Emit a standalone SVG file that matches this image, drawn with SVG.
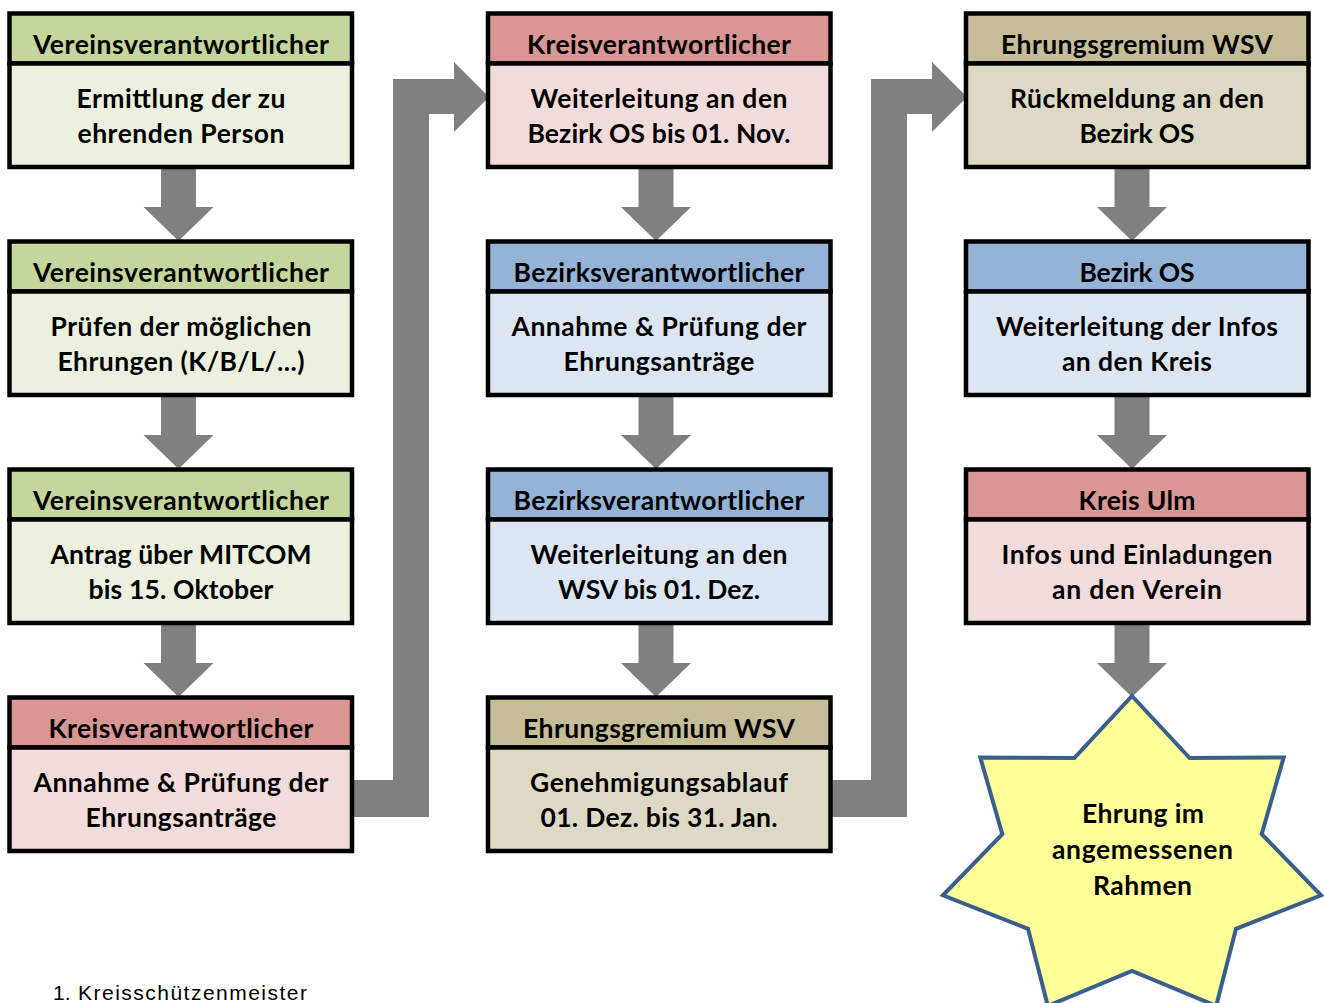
<svg xmlns="http://www.w3.org/2000/svg" width="1324" height="1003" viewBox="0 0 1324 1003">
<style>
.box{stroke:#000;stroke-width:4.5}
.gH{fill:#c3d69b}.gB{fill:#ebf1de}
.rH{fill:#d99694}.rB{fill:#f2dcdb}
.bH{fill:#95b3d7}.bB{fill:#dce6f2}
.tH{fill:#c4bd97}.tB{fill:#ddd9c4}
text{font-family:Lato,"Open Sans","Liberation Sans",sans-serif;font-weight:bold;font-size:26.5px;fill:#000;text-anchor:middle}
.arrow{fill:#808080}
.foot{font-family:"Liberation Sans",Arial,sans-serif;font-weight:normal;font-size:21px;text-anchor:start}
</style>
<g id="connectors">
<path class="arrow" d="M161 168 H196 V207 H213.5 L178.5 241 L143.5 207 H161 Z"/>
<path class="arrow" d="M161 396 H196 V435 H213.5 L178.5 469 L143.5 435 H161 Z"/>
<path class="arrow" d="M161 624 H196 V663 H213.5 L178.5 697 L143.5 663 H161 Z"/>
<path class="arrow" d="M638.5 168 H673.5 V207 H691 L656 241 L621 207 H638.5 Z"/>
<path class="arrow" d="M638.5 396 H673.5 V435 H691 L656 469 L621 435 H638.5 Z"/>
<path class="arrow" d="M638.5 624 H673.5 V663 H691 L656 697 L621 663 H638.5 Z"/>
<path class="arrow" d="M1114.5 168 H1149.5 V207 H1167 L1132 241 L1097 207 H1114.5 Z"/>
<path class="arrow" d="M1114.5 396 H1149.5 V435 H1167 L1132 469 L1097 435 H1114.5 Z"/>
<path class="arrow" d="M1114.5 624 H1149.5 V663 H1167 L1132 697 L1097 663 H1114.5 Z"/>
<path class="arrow" d="M353 780 H393 V79 H454 V62 L489 97 L454 132 V114 H429 V817 H353 Z"/>
<path class="arrow" d="M831 780 H871 V79 H932 V62 L967 97 L932 132 V114 H907 V817 H831 Z"/>
</g>
<g id="n1">
<rect class="box gH" x="9.5" y="13.5" width="342.5" height="50"/>
<rect class="box gB" x="9.5" y="63.5" width="342.5" height="103.5"/>
<text x="181" y="54" textLength="296">Vereinsverantwortlicher</text>
<text x="181" y="107.5" textLength="209">Ermittlung der zu</text>
<text x="181" y="143" textLength="207">ehrenden Person</text>
</g>
<g id="n2">
<rect class="box gH" x="9.5" y="241.5" width="342.5" height="50"/>
<rect class="box gB" x="9.5" y="291.5" width="342.5" height="103.5"/>
<text x="181" y="282" textLength="296">Vereinsverantwortlicher</text>
<text x="181" y="335.5" textLength="261">Prüfen der möglichen</text>
<text x="181" y="371" textLength="247">Ehrungen (K/B/L/...)</text>
</g>
<g id="n3">
<rect class="box gH" x="9.5" y="469.5" width="342.5" height="50"/>
<rect class="box gB" x="9.5" y="519.5" width="342.5" height="103.5"/>
<text x="181" y="510" textLength="296">Vereinsverantwortlicher</text>
<text x="181" y="563.5" textLength="261">Antrag über MITCOM</text>
<text x="181" y="599" textLength="185">bis 15. Oktober</text>
</g>
<g id="n4">
<rect class="box rH" x="9.5" y="697.5" width="342.5" height="50"/>
<rect class="box rB" x="9.5" y="747.5" width="342.5" height="103.5"/>
<text x="181" y="738" textLength="265">Kreisverantwortlicher</text>
<text x="181" y="791.5" textLength="295">Annahme &amp; Prüfung der</text>
<text x="181" y="827" textLength="191">Ehrungsanträge</text>
</g>
<g id="n5">
<rect class="box rH" x="488" y="13.5" width="342.5" height="50"/>
<rect class="box rB" x="488" y="63.5" width="342.5" height="103.5"/>
<text x="659" y="54" textLength="264">Kreisverantwortlicher</text>
<text x="659" y="107.5" textLength="257">Weiterleitung an den</text>
<text x="659" y="143" textLength="263">Bezirk OS bis 01. Nov.</text>
</g>
<g id="n6">
<rect class="box bH" x="488" y="241.5" width="342.5" height="50"/>
<rect class="box bB" x="488" y="291.5" width="342.5" height="103.5"/>
<text x="659" y="282" textLength="291">Bezirksverantwortlicher</text>
<text x="659" y="335.5" textLength="295">Annahme &amp; Prüfung der</text>
<text x="659" y="371" textLength="191">Ehrungsanträge</text>
</g>
<g id="n7">
<rect class="box bH" x="488" y="469.5" width="342.5" height="50"/>
<rect class="box bB" x="488" y="519.5" width="342.5" height="103.5"/>
<text x="659" y="510" textLength="291">Bezirksverantwortlicher</text>
<text x="659" y="563.5" textLength="257">Weiterleitung an den</text>
<text x="659" y="599" textLength="202">WSV bis 01. Dez.</text>
</g>
<g id="n8">
<rect class="box tH" x="488" y="697.5" width="342.5" height="50"/>
<rect class="box tB" x="488" y="747.5" width="342.5" height="103.5"/>
<text x="659" y="738" textLength="272">Ehrungsgremium WSV</text>
<text x="659" y="791.5" textLength="258">Genehmigungsablauf</text>
<text x="659" y="827" textLength="237">01. Dez. bis 31. Jan.</text>
</g>
<g id="n9">
<rect class="box tH" x="966" y="13.5" width="342.5" height="50"/>
<rect class="box tB" x="966" y="63.5" width="342.5" height="103.5"/>
<text x="1137" y="54" textLength="272">Ehrungsgremium WSV</text>
<text x="1137" y="107.5" textLength="254">Rückmeldung an den</text>
<text x="1137" y="143" textLength="115">Bezirk OS</text>
</g>
<g id="n10">
<rect class="box bH" x="966" y="241.5" width="342.5" height="50"/>
<rect class="box bB" x="966" y="291.5" width="342.5" height="103.5"/>
<text x="1137" y="282" textLength="115">Bezirk OS</text>
<text x="1137" y="335.5" textLength="282">Weiterleitung der Infos</text>
<text x="1137" y="371" textLength="150">an den Kreis</text>
</g>
<g id="n11">
<rect class="box rH" x="966" y="469.5" width="342.5" height="50"/>
<rect class="box rB" x="966" y="519.5" width="342.5" height="103.5"/>
<text x="1137" y="510" textLength="117">Kreis Ulm</text>
<text x="1137" y="563.5" textLength="271">Infos und Einladungen</text>
<text x="1137" y="599" textLength="170">an den Verein</text>
</g>
<g id="star">
<polygon points="1132,696 1189.7,758.1 1283.7,757.4 1261.7,834.1 1321.1,895.3 1236,928.8 1216.2,1005.9 1132,971 1047.8,1005.9 1028,928.8 942.9,895.3 1002.3,834.1 980.3,757.4 1074.3,758.1" fill="#ffff99" stroke="#3a5f8f" stroke-width="4" stroke-linejoin="miter"/>
<text x="1143" y="823" textLength="122">Ehrung im</text>
<text x="1142.5" y="859" textLength="181">angemessenen</text>
<text x="1142.5" y="895" textLength="99">Rahmen</text>
</g>
<g id="footer">
<text class="foot" x="53" y="1000">1.</text>
<text class="foot" x="78" y="1000" textLength="229">Kreisschützenmeister</text>
</g>
</svg>
